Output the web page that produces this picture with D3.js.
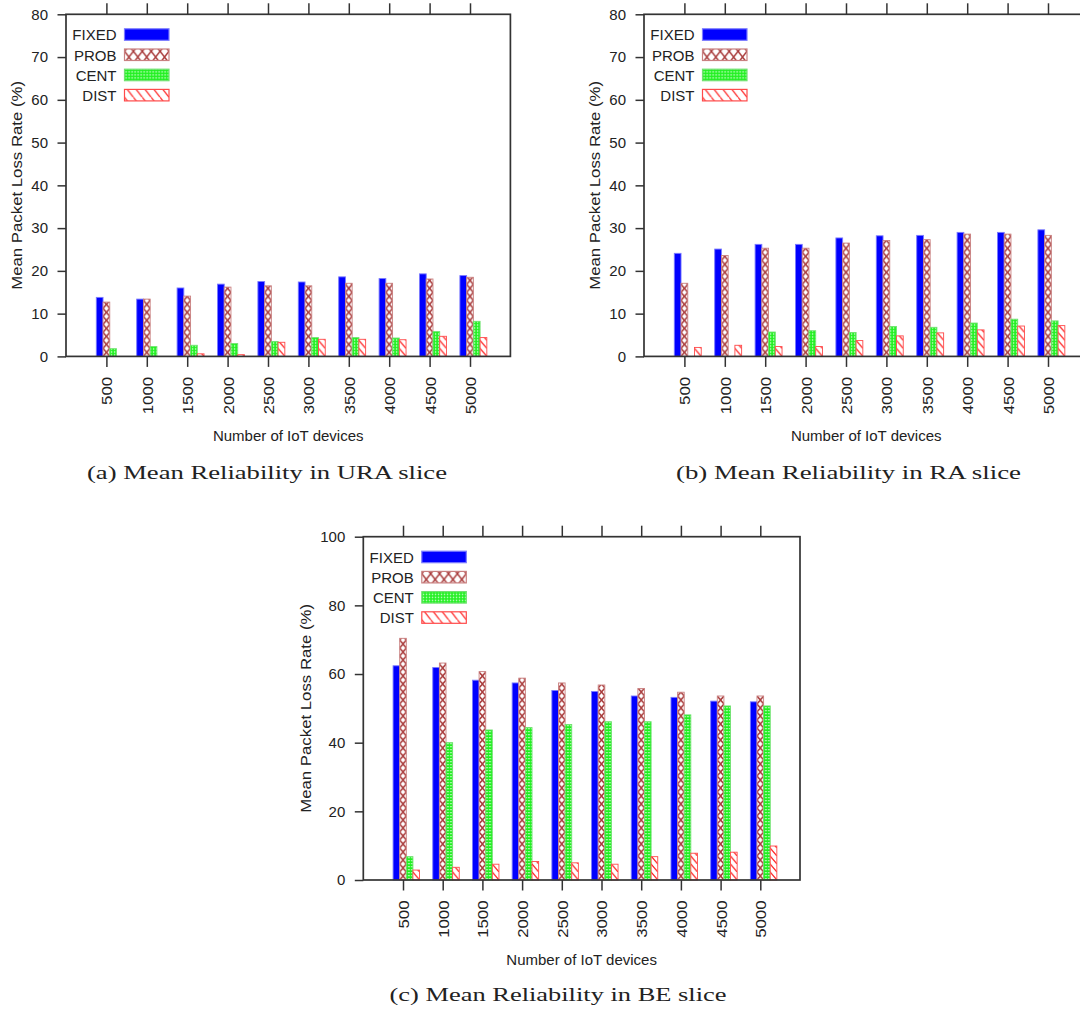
<!DOCTYPE html>
<html><head><meta charset="utf-8">
<script src="https://cdn.jsdelivr.net/npm/d3@7"></script>
<style>
html,body{margin:0;padding:0;background:#fff;}
svg{display:block;}
</style></head>
<body>
<svg id="chart" width="1080" height="1012"></svg>
<script>
// ---------------- data ----------------
const categories = ["500","1000","1500","2000","2500","3000","3500","4000","4500","5000"];
const seriesNames = ["FIXED","PROB","CENT","DIST"];

const uraFixed = [13.8,13.4,16.0,16.9,17.5,17.4,18.6,18.2,19.3,18.9];
const uraProb  = [12.7,13.4,14.1,16.2,16.5,16.5,17.1,17.1,18.1,18.5];
const uraCent  = [1.8,2.3,2.6,3.0,3.5,4.4,4.4,4.3,5.8,8.2];
const uraDist  = [0,0,0.6,0.4,3.3,4.0,4.0,3.9,4.7,4.4];

const raFixed = [24.1,25.1,26.2,26.2,27.7,28.2,28.3,29.0,29.0,29.6];
const raProb  = [17.1,23.6,25.3,25.3,26.5,27.1,27.3,28.6,28.6,28.3];
const raCent  = [0,0,5.7,6.0,5.6,7.0,6.8,7.8,8.7,8.3];
const raDist  = [2.1,2.6,2.3,2.3,3.7,4.8,5.5,6.2,7.1,7.2];

const beFixed = [62.4,61.9,58.2,57.4,55.2,54.9,53.6,53.2,52.1,51.9];
const beProb  = [70.4,63.2,60.7,58.8,57.4,56.8,55.8,54.7,53.6,53.6];
const beCent  = [6.8,40.0,43.7,44.4,45.3,46.1,46.1,48.1,50.7,50.7];
const beDist  = [2.9,3.7,4.6,5.4,5.0,4.6,6.8,7.8,8.1,9.9];

const yTicksAB = [0,10,20,30,40,50,60,70,80];
const yTicksC  = [0,20,40,60,80,100];

const yLabel = "Mean Packet Loss Rate (%)";
const xLabel = "Number of IoT devices";
const captions = ["(a) Mean Reliability in URA slice","(b) Mean Reliability in RA slice","(c) Mean Reliability in BE slice"];

// ---------------- drawing ----------------
const svg = d3.select("#chart");
const defs = svg.append("defs");
const FONT = "'Liberation Sans', Arial, Helvetica, sans-serif";
const VSTRETCH = 1.12;

function addPatterns(id, x0, y0, w, h) {
  // PROB: crosshatch
  const p1 = defs.append("pattern").attr("id", "prob-" + id)
    .attr("patternUnits", "userSpaceOnUse")
    .attr("x", x0).attr("y", y0).attr("width", w).attr("height", h);
  p1.append("rect").attr("width", w).attr("height", h).attr("fill", "#fff");
  p1.append("path").attr("d", `M0,0L${w},${h}M${w},0L0,${h}`)
    .attr("stroke", "#a83a3a").attr("stroke-width", 1.5).attr("fill", "none");
  // DIST: diagonal "\" lines
  const p2 = defs.append("pattern").attr("id", "dist-" + id)
    .attr("patternUnits", "userSpaceOnUse")
    .attr("x", x0).attr("y", y0).attr("width", w).attr("height", h);
  p2.append("rect").attr("width", w).attr("height", h).attr("fill", "#fff");
  p2.append("path").attr("d", `M0,0L${w},${h}M${-w},0L0,${h}M${w},${-h}L${2*w},0`)
    .attr("stroke", "#ff2020").attr("stroke-width", 1.2).attr("fill", "none");
  // CENT: green with white dots
  const p3 = defs.append("pattern").attr("id", "cent-" + id)
    .attr("patternUnits", "userSpaceOnUse")
    .attr("x", x0).attr("y", y0).attr("width", 3).attr("height", 3);
  p3.append("rect").attr("width", 3).attr("height", 3).attr("fill", "#1ff01f");
  p3.append("rect").attr("x", 1).attr("y", 1).attr("width", 1.3).attr("height", 1.3).attr("fill", "#f0fff0");
}

const fills = (id) => ["#0000ff", `url(#prob-${id})`, `url(#cent-${id})`, `url(#dist-${id})`];
const strokes = ["#7a7aff", "#c98080", "#70e070", "#ff4a4a"];

function drawPanel(cfg) {
  const g = svg.append("g");
  const x = d3.scalePoint().domain(categories).range([cfg.left, cfg.right]).padding(1);
  const y = d3.scaleLinear().domain([0, cfg.ymax]).range([cfg.bottom, cfg.top]);
  const w = x.step() / 6;
  addPatterns(cfg.id, cfg.left - 1.5 * w, cfg.bottom, w, 8);

  const series = cfg.values;
  series.forEach((vals, j) => {
    g.append("g").selectAll("rect")
      .data(categories.map((c, i) => ({ c, v: vals[i] })).filter(d => d.v > 0))
      .join("rect")
      .attr("x", d => x(d.c) + (j - 1.5) * w)
      .attr("y", d => y(d.v))
      .attr("width", w)
      .attr("height", d => y(0) - y(d.v))
      .attr("fill", fills(cfg.id)[j])
      .attr("stroke", strokes[j])
      .attr("stroke-width", 0.9);
  });

  // axes
  const left = g.append("g").attr("transform", `translate(${cfg.left},0)`)
    .call(d3.axisLeft(y).tickValues(cfg.yTicks).tickSize(8.5).tickPadding(9.5));
  const bottom = g.append("g").attr("transform", `translate(0,${cfg.bottom})`)
    .call(d3.axisBottom(x).tickSize(10.5));
  const top = g.append("g").attr("transform", `translate(0,${cfg.top})`)
    .call(d3.axisTop(x).tickSize(11).tickFormat(""));
  [left, bottom, top].forEach(a => {
    a.select(".domain").remove();
    a.selectAll("line").attr("stroke", "#333").attr("stroke-width", 1.5);
    a.selectAll("text").attr("fill", "#222").style("font-family", FONT).style("font-size", "15px");
  });
  bottom.selectAll("text")
    .attr("y", 0).attr("x", -20.5 / VSTRETCH).attr("dy", "0.36em")
    .attr("transform", `rotate(-90) scale(${VSTRETCH},1)`)
    .style("text-anchor", "end");

  // frame
  g.append("rect").attr("x", cfg.left).attr("y", cfg.top)
    .attr("width", cfg.right - cfg.left).attr("height", cfg.bottom - cfg.top)
    .attr("fill", "none").attr("stroke", "#333").attr("stroke-width", 1.7);

  // y label
  const digits = String(cfg.ymax).length;
  g.append("text")
    .attr("transform", `translate(${cfg.left - 33 - digits * 8.4},${(cfg.top + cfg.bottom) / 2}) rotate(-90) scale(${VSTRETCH},1)`)
    .attr("dy", "0.36em").attr("text-anchor", "middle")
    .style("font-family", FONT).style("font-size", "15px").attr("fill", "#222")
    .text(yLabel);
  // x label
  g.append("text")
    .attr("x", (cfg.left + cfg.right) / 2).attr("y", cfg.bottom + 84.5)
    .attr("text-anchor", "middle")
    .style("font-family", FONT).style("font-size", "15px").attr("fill", "#222")
    .text(xLabel);

  // legend
  const lx = cfg.left + 50.5, sx = cfg.left + 58.5, sw = 44.5, sh = 11.5;
  const legPat = cfg.id + "L";
  addPatterns(legPat, sx, cfg.top + 14, sw / 5, sh);
  seriesNames.forEach((name, j) => {
    const base = cfg.top + 26 + 20.2 * j;
    g.append("text").attr("x", lx).attr("y", base).attr("text-anchor", "end")
      .style("font-family", FONT).style("font-size", "15px").attr("fill", "#222")
      .text(name);
    g.append("rect").attr("x", sx).attr("y", base - sh).attr("width", sw).attr("height", sh)
      .attr("fill", fills(legPat)[j]).attr("stroke", strokes[j]).attr("stroke-width", 1.2);
  });

  // caption
  g.append("text").attr("x", cfg.capX).attr("y", cfg.capY).attr("text-anchor", "middle")
    .attr("textLength", cfg.capW).attr("lengthAdjust", "spacingAndGlyphs")
    .style("font-family", "'Liberation Serif', 'DejaVu Serif', serif").style("font-size", "19.5px")
    .attr("fill", "#222")
    .text(cfg.caption);
}

drawPanel({ id: "a", left: 66, right: 510.4, top: 14.3, bottom: 356.4, ymax: 80, yTicks: yTicksAB,
  values: [uraFixed, uraProb, uraCent, uraDist], caption: captions[0], capX: 267, capY: 479, capW: 360 });
drawPanel({ id: "b", left: 644, right: 1088.4, top: 14.3, bottom: 356.4, ymax: 80, yTicks: yTicksAB,
  values: [raFixed, raProb, raCent, raDist], caption: captions[1], capX: 848.5, capY: 479, capW: 345 });
drawPanel({ id: "c", left: 363.3, right: 800, top: 536.7, bottom: 880, ymax: 100, yTicks: yTicksC,
  values: [beFixed, beProb, beCent, beDist], caption: captions[2], capX: 558, capY: 1001, capW: 337 });
</script>
</body></html>
